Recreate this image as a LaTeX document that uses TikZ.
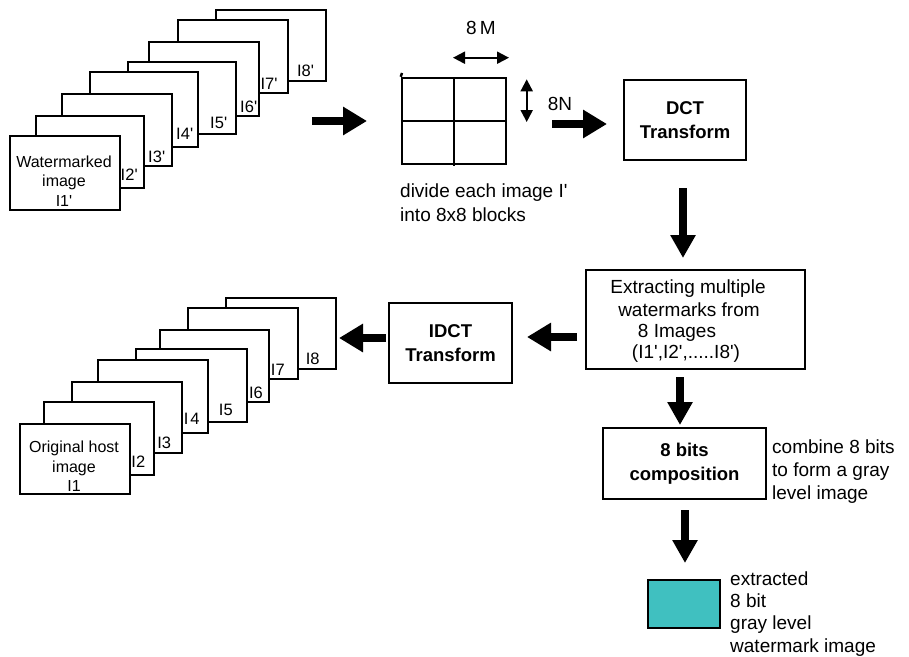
\documentclass[tikz,border=0pt]{standalone}
\usepackage{fontspec}
\setmainfont{Liberation Sans}[Ligatures=TeXOff]
\usetikzlibrary{arrows.meta}
\definecolor{tealfill}{RGB}{64,192,192}
\begin{document}
\begin{tikzpicture}[x=1pt,y=-1pt,
  frame/.style={draw, line width=2.5pt, fill=white, inner sep=0},
  lbl/.style={font=\fontsize{16.5}{19}\selectfont, inner sep=0},
  ftext/.style={font=\fontsize{16}{19.5}\selectfont, inner sep=0, align=center},
  big/.style={font=\fontsize{19}{23}\selectfont, inner sep=0},
  procbox/.style={draw, line width=2.5pt, align=center, inner sep=0,
    font=\fontsize{18.5}{23.5}\selectfont\bfseries},
  blockarrow/.style={line width=7.5pt, -{Triangle[length=24pt,width=27pt]}},
  downarrow/.style={line width=8pt, -{Triangle[length=23pt,width=24pt]}},
  thinarrow/.style={line width=2pt, {Triangle[length=12pt,width=12pt]}-{Triangle[length=12pt,width=12pt]}},
]
\useasboundingbox (0,0) rectangle (909,656);

% ---- top stack (watermarked images)
\node[frame, minimum width=110pt, minimum height=71pt] (t8) at (271,45.5) {};
\node[frame, minimum width=110pt, minimum height=73pt] (t7) at (233,56.5) {};
\node[frame, minimum width=110pt, minimum height=74pt] (t6) at (204,79) {};
\node[frame, minimum width=108pt, minimum height=72pt] (t5) at (182,98) {};
\node[frame, minimum width=108pt, minimum height=75pt] (t4) at (144,109.5) {};
\node[frame, minimum width=110pt, minimum height=72pt] (t3) at (117,130) {};
\node[frame, minimum width=108pt, minimum height=72pt] (t2) at (90,152) {};
\node[frame, minimum width=110pt, minimum height=74pt] (t1) at (65,173) {};
\node[ftext] (t1txt) at (64,181) {Watermarked\\image\\I1'};
\node[lbl] (l8) at (305.5,70.5) {I8'};
\node[lbl] (l7) at (269,84) {I7'};
\node[lbl] (l6) at (248.7,106.7) {I6'};
\node[lbl] (l5) at (218.7,123.3) {I5'};
\node[lbl] (l4) at (184.7,134) {I4'};
\node[lbl] (l3) at (156.7,156.7) {I3'};
\node[lbl] (l2) at (129.2,175) {I2'};

% ---- block grid
\node[draw, line width=2.5pt, minimum width=104pt, minimum height=86pt, inner sep=0] (grid) at (454,121) {};
\coordinate (gtop) at (402,73);
\coordinate (gmt) at (454,78);
\coordinate (gmb) at (454,166);
\draw[line width=2.5pt] (gtop) -- (grid.north west);
\draw[line width=2.5pt] (gmt) -- (gmb);
\draw[line width=2.5pt] (grid.west) -- (grid.east);
\coordinate (mL) at (453,57.7);
\coordinate (mR) at (509,57.7);
\draw[thinarrow] (mL) -- (mR);
\node[big] (m8) at (481,28) {8\,M};
\coordinate (nT) at (526.7,79.3);
\coordinate (nB) at (526.7,122);
\draw[thinarrow] (nT) -- (nB);
\node[big] (n8) at (560,103.7) {8N};
\node[big, anchor=base west] (div1) at (400,197) {divide each image I'};
\node[big, anchor=base west] (div2) at (400,221) {into 8x8 blocks};

% ---- process boxes
\node[procbox, minimum width=122pt, minimum height=80pt] (dct) at (685,120) {DCT\\Transform};
\node[draw, line width=2.5pt, minimum width=219pt, minimum height=99pt, inner sep=0] (ext) at (695.5,319.5) {};
\node[big, anchor=base] (e1) at (688,293) {Extracting multiple};
\node[big, anchor=base] (e2) at (689,316) {watermarks from};
\node[big, anchor=base] (e3) at (677,337.5) {8 Images};
\node[big, anchor=base] (e4) at (686,358) {(I1',I2',.....I8')};
\node[procbox, minimum width=123pt, minimum height=80pt] (idct) at (450.5,343) {IDCT\\Transform};
\node[procbox, minimum width=163pt, minimum height=71pt] (bits) at (684.5,463.5) {8 bits\\composition};
\node[big, anchor=base west] (c1) at (772,453) {combine 8 bits};
\node[big, anchor=base west] (c2) at (772,476) {to form a gray};
\node[big, anchor=base west] (c3) at (772,499) {level image};
\node[draw, line width=2.5pt, fill=tealfill, minimum width=72pt, minimum height=48pt, inner sep=0] (wm) at (684,604) {};
\node[big, anchor=base west] (w1) at (730,585) {extracted};
\node[big, anchor=base west] (w2) at (730,607) {8 bit};
\node[big, anchor=base west] (w3) at (730,629.5) {gray level};
\node[big, anchor=base west] (w4) at (730,652) {watermark image};

% ---- bottom stack (original images)
\node[frame, minimum width=110pt, minimum height=71pt] (b8) at (281,333.5) {};
\node[frame, minimum width=110pt, minimum height=71pt] (b7) at (243,343.5) {};
\node[frame, minimum width=109pt, minimum height=72pt] (b6) at (214.5,366) {};
\node[frame, minimum width=111pt, minimum height=73pt] (b5) at (191.5,385.5) {};
\node[frame, minimum width=110pt, minimum height=73pt] (b4) at (153,396.5) {};
\node[frame, minimum width=110pt, minimum height=71pt] (b3) at (127,417.5) {};
\node[frame, minimum width=110pt, minimum height=73pt] (b2) at (99,438.5) {};
\node[frame, minimum width=110pt, minimum height=70pt] (b1) at (75,459) {};
\node[ftext] (b1txt) at (74,466.4) {Original host\\image\\I1};
\node[lbl] (k8) at (312.7,358.7) {I8};
\node[lbl] (k7) at (277.8,369.5) {I7};
\node[lbl] (k6) at (256,392.8) {I6};
\node[lbl] (k5) at (225.8,409.5) {I5};
\node[lbl] (k4) at (191.7,419.2) {I\kern2pt 4};
\node[lbl] (k3) at (164.2,442.8) {I3};
\node[lbl] (k2) at (138.3,462.2) {I2};

% ---- block arrows
\coordinate (a1s) at (312,121);   \coordinate (a1e) at (367,121);
\coordinate (a2s) at (552,124);   \coordinate (a2e) at (607,124);
\coordinate (a3s) at (683,188);   \coordinate (a3e) at (683,258);
\coordinate (a4s) at (577,337);   \coordinate (a4e) at (527,337);
\coordinate (a5s) at (386,338);   \coordinate (a5e) at (339,338);
\coordinate (a6s) at (680,377);   \coordinate (a6e) at (680,425);
\coordinate (a7s) at (685,510);   \coordinate (a7e) at (685,563);
\draw[blockarrow] (a1s) -- (a1e);
\draw[blockarrow] (a2s) -- (a2e);
\draw[downarrow] (a3s) -- (a3e);
\draw[blockarrow] (a4s) -- (a4e);
\draw[blockarrow] (a5s) -- (a5e);
\draw[downarrow] (a6s) -- (a6e);
\draw[downarrow] (a7s) -- (a7e);
\end{tikzpicture}
\end{document}
